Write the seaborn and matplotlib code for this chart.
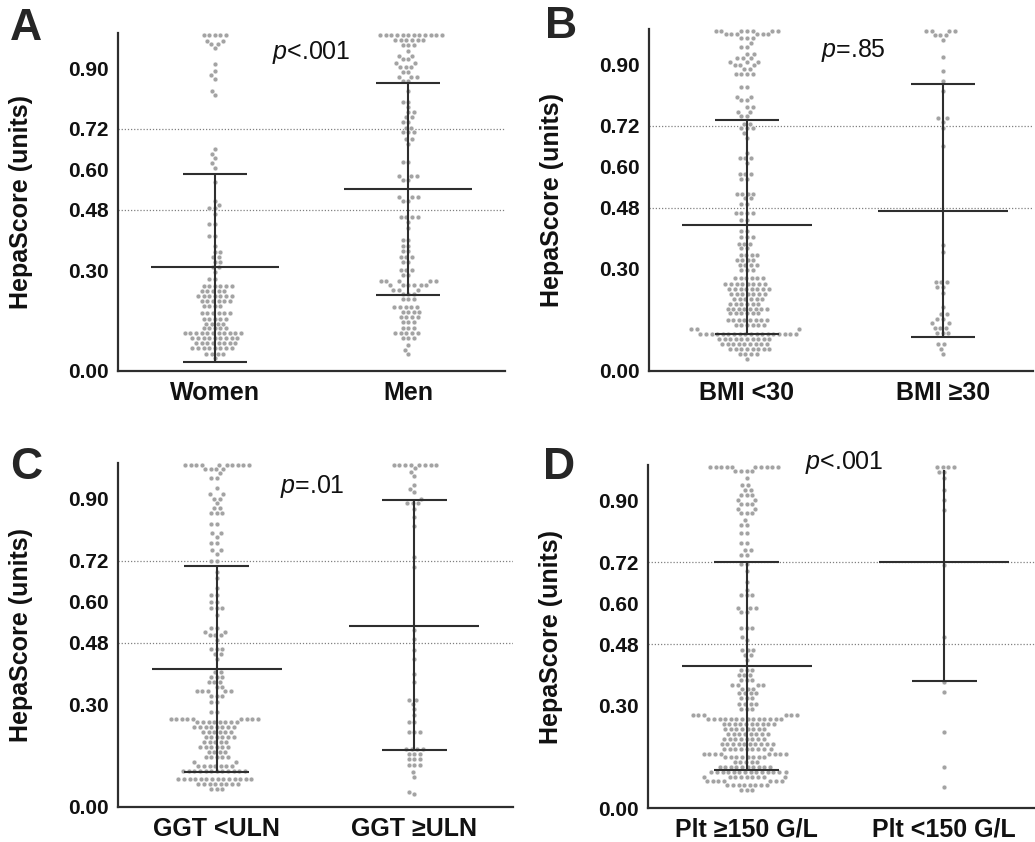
import numpy as np
import pandas as pd
import seaborn as sns
import matplotlib.pyplot as plt

# HepaScore scatter (beeswarm) with median and IQR, 4 panels
# each group: row values read off the picture + how many dots sit on that row

# A: sex
women_vals = [1.000, 0.982, 0.972, 0.960, 0.913, 0.893, 0.880, 0.868, 0.834, 0.820,
              0.660, 0.646, 0.632, 0.618, 0.604, 0.562,
              0.505, 0.495, 0.485, 0.467, 0.438, 0.400, 0.373, 0.355, 0.340, 0.325, 0.310,
              0.295, 0.275, 0.252, 0.237, 0.222, 0.207, 0.192, 0.171, 0.156, 0.141, 0.127,
              0.112, 0.097, 0.082, 0.067, 0.052, 0.038]
women_n = [5, 2, 2, 1, 1, 1, 1, 1, 1, 1,
           1, 1, 1, 1, 1, 1,
           1, 1, 2, 1, 2, 2, 1, 2, 2, 2, 2,
           1, 2, 6, 5, 7, 6, 4, 6, 5, 4, 5,
           11, 9, 8, 8, 4, 1]
men_vals = [1.000, 0.985, 0.970, 0.950, 0.938, 0.927, 0.915, 0.903, 0.889, 0.875, 0.862,
            0.834, 0.801, 0.785, 0.769, 0.754, 0.739, 0.724, 0.710, 0.690, 0.675,
            0.620, 0.581, 0.568, 0.517, 0.505, 0.458, 0.443, 0.425,
            0.389, 0.372, 0.356, 0.339, 0.324, 0.300, 0.285, 0.267, 0.255, 0.242, 0.230,
            0.214, 0.190, 0.176, 0.161, 0.146, 0.127, 0.112, 0.097, 0.077, 0.062, 0.050]
men_n = [12, 6, 3, 1, 2, 2, 2, 3, 2, 3, 2,
         1, 2, 1, 2, 2, 2, 2, 3, 2, 1,
         2, 3, 2, 3, 2, 4, 1, 1,
         2, 2, 2, 3, 2, 3, 2, 5, 6, 3, 3,
         3, 5, 4, 4, 3, 3, 5, 3, 1, 1, 1]

# B: BMI
bmi_lo_vals = [1.000, 0.990, 0.980, 0.963, 0.953, 0.933, 0.919, 0.909, 0.899, 0.888, 0.874,
               0.835, 0.806, 0.796, 0.776, 0.762, 0.749, 0.727, 0.713, 0.698, 0.685,
               0.640, 0.625, 0.610, 0.580, 0.565, 0.521, 0.507, 0.492, 0.463, 0.444,
               0.410, 0.394, 0.374, 0.360, 0.340, 0.325, 0.311, 0.296, 0.272, 0.257, 0.242,
               0.227, 0.213, 0.198, 0.183, 0.169, 0.149, 0.135, 0.122, 0.110, 0.095, 0.080,
               0.066, 0.051, 0.036]
bmi_lo_n = [7, 6, 3, 1, 2, 2, 3, 3, 3, 2, 4,
            2, 2, 2, 2, 2, 2, 2, 3, 1, 1,
            1, 3, 1, 3, 2, 4, 2, 2, 4, 2,
            2, 3, 3, 2, 4, 4, 4, 3, 6, 8, 8,
            7, 6, 6, 8, 6, 8, 6, 3, 18, 10, 9,
            8, 4, 1]
bmi_hi_vals = [1.000, 0.987, 0.973, 0.924, 0.881, 0.852, 0.822, 0.742, 0.733, 0.713, 0.662,
               0.371, 0.350, 0.262, 0.247, 0.230, 0.188, 0.168, 0.153, 0.140, 0.127, 0.113,
               0.080, 0.066, 0.051]
bmi_hi_n = [4, 3, 1, 1, 1, 1, 1, 2, 1, 1, 1,
            1, 1, 3, 2, 1, 1, 2, 2, 2, 3, 3,
            2, 1, 1]

# C: GGT
ggt_lo_vals = [1.000, 0.987, 0.975, 0.962, 0.931, 0.913, 0.901, 0.888, 0.874, 0.860,
               0.828, 0.800, 0.790, 0.770, 0.750, 0.740, 0.720, 0.687, 0.668, 0.640,
               0.620, 0.600, 0.580, 0.562, 0.522, 0.512, 0.502, 0.487, 0.463, 0.448, 0.433,
               0.395, 0.380, 0.366, 0.352, 0.338, 0.325, 0.307, 0.277, 0.258, 0.248, 0.234,
               0.219, 0.205, 0.190, 0.175, 0.160, 0.146, 0.131, 0.120, 0.105, 0.082, 0.068, 0.053]
ggt_lo_n = [10, 4, 1, 2, 1, 2, 2, 1, 2, 3,
            2, 2, 1, 2, 2, 1, 2, 1, 1, 1,
            2, 2, 3, 1, 2, 2, 3, 1, 3, 2, 1,
            2, 3, 3, 2, 5, 3, 2, 2, 9, 8, 8,
            6, 6, 5, 6, 4, 5, 2, 7, 12, 14, 8, 3]
ggt_hi_vals = [1.000, 0.990, 0.980, 0.968, 0.940, 0.930, 0.920, 0.900, 0.887, 0.872,
               0.848, 0.820, 0.730, 0.700, 0.517, 0.490, 0.458, 0.432, 0.388, 0.365,
               0.312, 0.300, 0.285, 0.268, 0.248, 0.220, 0.170, 0.156, 0.140, 0.122,
               0.103, 0.088, 0.044, 0.039]
ggt_hi_n = [8, 1, 1, 1, 1, 1, 1, 1, 3, 1,
            1, 1, 1, 1, 1, 1, 1, 1, 1, 1,
            2, 1, 1, 1, 2, 3, 4, 3, 3, 3,
            1, 1, 1, 1]

# D: platelets
plt_hi_vals = [1.000, 0.987, 0.966, 0.946, 0.932, 0.917, 0.903, 0.890, 0.876, 0.863,
               0.845, 0.830, 0.805, 0.775, 0.756, 0.741, 0.714, 0.693, 0.663, 0.640,
               0.624, 0.585, 0.573, 0.526, 0.502, 0.492, 0.462, 0.448, 0.433,
               0.404, 0.389, 0.375, 0.360, 0.350, 0.336, 0.321, 0.306, 0.291, 0.272,
               0.262, 0.247, 0.232, 0.218, 0.203, 0.188, 0.174, 0.159, 0.150, 0.135,
               0.120, 0.106, 0.091, 0.078, 0.066, 0.052]
plt_hi_n = [10, 4, 1, 2, 2, 3, 2, 3, 2, 3,
            1, 2, 2, 2, 2, 2, 2, 1, 1, 1,
            3, 3, 2, 3, 1, 1, 3, 2, 1,
            3, 3, 3, 4, 3, 4, 3, 4, 3, 6,
            14, 10, 8, 8, 8, 10, 9, 8, 8, 5,
            10, 14, 9, 7, 8, 3]
plt_lo_vals = [1.000, 0.985, 0.966, 0.932, 0.903, 0.873, 0.712, 0.502, 0.370, 0.340,
               0.223, 0.120, 0.061]
plt_lo_n = [4, 2, 1, 1, 1, 1, 1, 1, 1, 1, 1, 1, 1]

# median / lower / upper bar as drawn
medians = [[0.308, 0.540], [0.428, 0.470], [0.403, 0.530], [0.415, 0.720]]
lowers = [[0.028, 0.226], [0.110, 0.100], [0.102, 0.166], [0.110, 0.372]]
uppers = [[0.587, 0.857], [0.739, 0.842], [0.705, 0.897], [0.720, 0.990]]
upper_cap = [[True, True], [True, True], [True, True], [True, False]]

groups = [["Women", "Men"], ["BMI <30", "BMI \u226530"],
          ["GGT <ULN", "GGT \u2265ULN"], ["Plt \u2265150 G/L", "Plt <150 G/L"]]
values = [[(women_vals, women_n), (men_vals, men_n)],
          [(bmi_lo_vals, bmi_lo_n), (bmi_hi_vals, bmi_hi_n)],
          [(ggt_lo_vals, ggt_lo_n), (ggt_hi_vals, ggt_hi_n)],
          [(plt_hi_vals, plt_hi_n), (plt_lo_vals, plt_lo_n)]]
letters = ["A", "B", "C", "D"]
pvals = ["$p$<.001", "$p$=.85", "$p$=.01", "$p$<.001"]

sns.set_style("white")
plt.rcParams["font.family"] = ["Liberation Sans", "DejaVu Sans"]
plt.rcParams["mathtext.fontset"] = "custom"
plt.rcParams["mathtext.it"] = "Liberation Sans:italic"
plt.rcParams["mathtext.rm"] = "Liberation Sans"

W, H = 1035, 842
fig = plt.figure(figsize=(W / 100, H / 100), dpi=100)

# axes boxes in pixels: left, top, right, bottom
boxes = [(118, 33, 505, 371), (649, 29, 1033, 371),
         (118, 463, 513, 807), (648, 465, 1035, 808)]
xmax = [1.5, 1.46, 1.5, 1.46]
letter_pos = [(10, 8), (545, 6), (10, 447), (543, 447)]
p_pos = [(311, 53), (853, 50), (312, 486), (844, 462)]

line_col = "#2e2e2e"
dot_col = "#a3a3a3"

for k in range(4):
    l, t, r, b = boxes[k]
    ax = fig.add_axes([l / W, 1 - b / H, (r - l) / W, (b - t) / H])

    rows = []
    for name, (vals, n) in zip(groups[k], values[k]):
        for v in np.repeat(vals, n):
            rows.append({"group": name, "score": v})
    df = pd.DataFrame(rows)

    for ref in [0.48, 0.72]:
        ax.axhline(ref, color="#808080", lw=0.9, ls=(0, (1, 1.5)), zorder=1)

    sns.swarmplot(data=df, x="group", y="score", order=groups[k], color=dot_col,
                  size=3.5, linewidth=0.35, edgecolor="white", ax=ax, zorder=2)
    for c in ax.collections:
        c.set_clip_on(False)

    for i in range(2):
        ax.hlines(medians[k][i], i - 0.33, i + 0.33, color=line_col, lw=1.5, zorder=3)
        ax.vlines(i, lowers[k][i], uppers[k][i], color=line_col, lw=1.5, zorder=3)
        ax.hlines(lowers[k][i], i - 0.165, i + 0.165, color=line_col, lw=1.5, zorder=3)
        if upper_cap[k][i]:
            ax.hlines(uppers[k][i], i - 0.165, i + 0.165, color=line_col, lw=1.5, zorder=3)

    ax.set_xlim(-0.5, xmax[k])
    ax.set_ylim(0, 1.005)
    ax.set_yticks([0, 0.30, 0.48, 0.60, 0.72, 0.90])
    ax.set_yticklabels(["0.00", "0.30", "0.48", "0.60", "0.72", "0.90"])
    sns.despine(ax=ax)
    for s in ["left", "bottom"]:
        ax.spines[s].set_linewidth(1.6)
        ax.spines[s].set_color(line_col)
    ax.tick_params(axis="y", length=5, width=1.4, color=line_col, pad=2, labelsize=15)
    ax.tick_params(axis="x", length=0, pad=7, labelsize=18)
    for lab in ax.get_xticklabels() + ax.get_yticklabels():
        lab.set_fontweight("bold")
        lab.set_color("#111111")
    ax.set_xlabel("")
    ax.set_ylabel("HepaScore (units)", fontsize=18, fontweight="bold", color="#111111")
    ax.yaxis.set_label_coords(-85 / (r - l), 0.5)

    fig.text(letter_pos[k][0] / W, 1 - letter_pos[k][1] / H, letters[k],
             fontsize=32, fontweight="bold", va="top", ha="left")
    fig.text(p_pos[k][0] / W, 1 - p_pos[k][1] / H, pvals[k],
             fontsize=18, va="center", ha="center", color="#111111")

fig.savefig("out.png", dpi=100)
